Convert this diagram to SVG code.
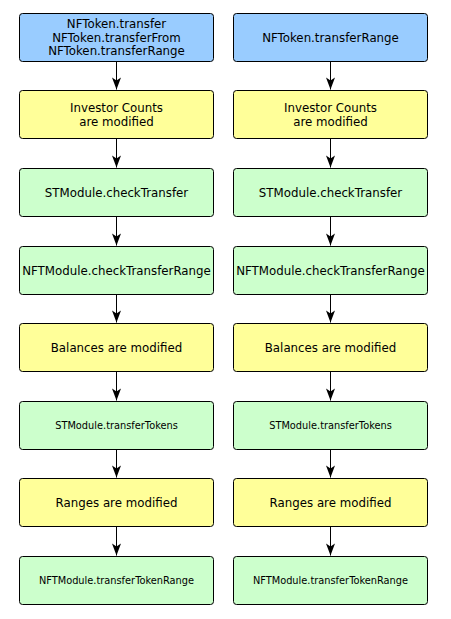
<svg xmlns="http://www.w3.org/2000/svg" width="451" height="619" viewBox="0 0 451 619">
<style>
rect{stroke:#000;stroke-width:1}
.b{fill:#99ccff}
.y{fill:#ffff99}
.g{fill:#ccffcc}
text{font-family:"DejaVu Sans",sans-serif;font-size:11.8px;text-anchor:middle;fill:#000}
text.s{font-size:9.8px}
.c line{stroke:#000;stroke-width:1;marker-end:url(#ah)}
</style>
<defs>
<marker id="ah" markerUnits="userSpaceOnUse" viewBox="-13 -5 14 10" refX="0" refY="0" markerWidth="14" markerHeight="10" orient="auto">
<path d="M0,0 L-12,-4.5 L-9,0 L-12,4.5 Z" fill="#000"/>
</marker>
</defs>
<rect width="451" height="619" fill="#fff" style="stroke:none"/>
<g class="c">
<line x1="116.5" y1="61.5" x2="116.5" y2="89.5"/>
<line x1="116.5" y1="138.5" x2="116.5" y2="167.5"/>
<line x1="116.5" y1="216.5" x2="116.5" y2="245.5"/>
<line x1="116.5" y1="294.5" x2="116.5" y2="322.5"/>
<line x1="116.5" y1="371.5" x2="116.5" y2="400.5"/>
<line x1="116.5" y1="449.5" x2="116.5" y2="477.5"/>
<line x1="116.5" y1="526.5" x2="116.5" y2="555.5"/>
<line x1="330.5" y1="61.5" x2="330.5" y2="89.5"/>
<line x1="330.5" y1="138.5" x2="330.5" y2="167.5"/>
<line x1="330.5" y1="216.5" x2="330.5" y2="245.5"/>
<line x1="330.5" y1="294.5" x2="330.5" y2="322.5"/>
<line x1="330.5" y1="371.5" x2="330.5" y2="400.5"/>
<line x1="330.5" y1="449.5" x2="330.5" y2="477.5"/>
<line x1="330.5" y1="526.5" x2="330.5" y2="555.5"/>
</g>
<g id="l1"><rect class="b" x="19.5" y="13.5" width="194" height="48" rx="3"/><text x="116.5" y="28">NFToken.transfer</text><text x="116.5" y="41.5">NFToken.transferFrom</text><text x="116.5" y="55">NFToken.transferRange</text></g>
<g id="l2"><rect class="y" x="19.5" y="90.5" width="194" height="48" rx="3"/><text x="116.5" y="112">Investor Counts</text><text x="116.5" y="125.5">are modified</text></g>
<g id="l3"><rect class="g" x="19.5" y="168.5" width="194" height="48" rx="3"/><text x="116.5" y="196.5">STModule.checkTransfer</text></g>
<g id="l4"><rect class="g" x="19.5" y="246.5" width="194" height="48" rx="3"/><text x="116.5" y="274.5">NFTModule.checkTransferRange</text></g>
<g id="l5"><rect class="y" x="19.5" y="323.5" width="194" height="48" rx="3"/><text x="116.5" y="351.5">Balances are modified</text></g>
<g id="l6"><rect class="g" x="19.5" y="401.5" width="194" height="48" rx="3"/><text class="s" x="116.5" y="429">STModule.transferTokens</text></g>
<g id="l7"><rect class="y" x="19.5" y="478.5" width="194" height="48" rx="3"/><text x="116.5" y="506.5">Ranges are modified</text></g>
<g id="l8"><rect class="g" x="19.5" y="556.5" width="194" height="48" rx="3"/><text class="s" x="116.5" y="584">NFTModule.transferTokenRange</text></g>
<g id="r1"><rect class="b" x="233.5" y="13.5" width="194" height="48" rx="3"/><text x="330.5" y="41.5">NFToken.transferRange</text></g>
<g id="r2"><rect class="y" x="233.5" y="90.5" width="194" height="48" rx="3"/><text x="330.5" y="112">Investor Counts</text><text x="330.5" y="125.5">are modified</text></g>
<g id="r3"><rect class="g" x="233.5" y="168.5" width="194" height="48" rx="3"/><text x="330.5" y="196.5">STModule.checkTransfer</text></g>
<g id="r4"><rect class="g" x="233.5" y="246.5" width="194" height="48" rx="3"/><text x="330.5" y="274.5">NFTModule.checkTransferRange</text></g>
<g id="r5"><rect class="y" x="233.5" y="323.5" width="194" height="48" rx="3"/><text x="330.5" y="351.5">Balances are modified</text></g>
<g id="r6"><rect class="g" x="233.5" y="401.5" width="194" height="48" rx="3"/><text class="s" x="330.5" y="429">STModule.transferTokens</text></g>
<g id="r7"><rect class="y" x="233.5" y="478.5" width="194" height="48" rx="3"/><text x="330.5" y="506.5">Ranges are modified</text></g>
<g id="r8"><rect class="g" x="233.5" y="556.5" width="194" height="48" rx="3"/><text class="s" x="330.5" y="584">NFTModule.transferTokenRange</text></g>
</svg>
